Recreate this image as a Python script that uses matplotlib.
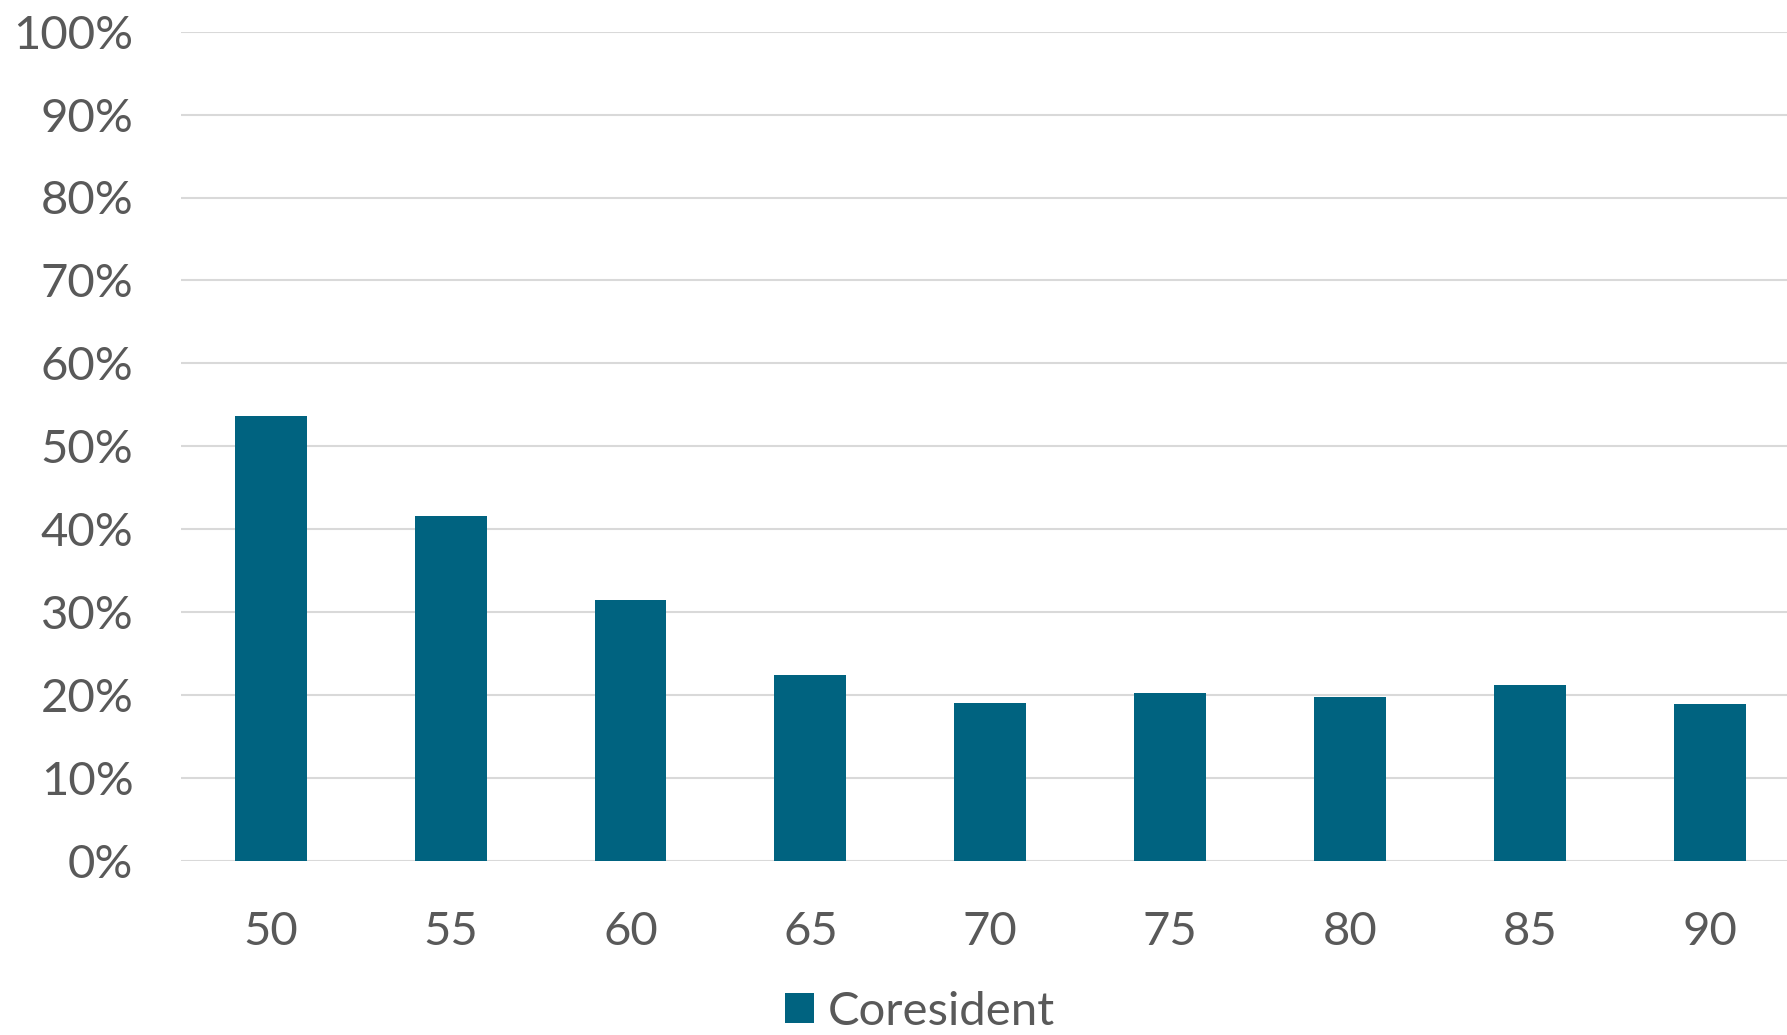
import matplotlib
matplotlib.use("Agg")
import matplotlib.pyplot as plt
from matplotlib.ticker import FuncFormatter

categories = ["50", "55", "60", "65", "70", "75", "80", "85", "90"]
coresident = [53.6, 41.6, 31.5, 22.4, 19.0, 20.2, 19.8, 21.2, 18.9]
yticks = [0, 10, 20, 30, 40, 50, 60, 70, 80, 90, 100]

plt.rcParams['font.family'] = ['Lato', 'DejaVu Sans']
text_color = "#595959"
bar_color = "#006380"
grid_color = "#d9d9d9"

W, H = 1787, 1035
fig = plt.figure(figsize=(W / 100, H / 100), dpi=100)
left, right = 180.7, 1800.0
top, bottom = 31.7, 860.7
ax = fig.add_axes([left / W, 1 - bottom / H, (right - left) / W, (bottom - top) / H])

x = list(range(len(categories)))
ax.bar(x, coresident, width=0.4, color=bar_color, label="Coresident", zorder=3)
ax.set_xlim(-0.5, len(categories) - 0.5)
ax.set_ylim(0, 100)
ax.set_yticks(yticks)
ax.yaxis.set_major_formatter(FuncFormatter(lambda v, p: f"{int(v)}%"))
ax.set_xticks(x)
ax.set_xticklabels(categories)
ax.grid(axis="y", color=grid_color, linewidth=1.5, zorder=0)
ax.set_axisbelow(True)
for s in ax.spines.values():
    s.set_visible(False)
ax.tick_params(axis="both", length=0, labelsize=34, labelcolor=text_color)
ax.tick_params(axis="y", pad=34)
ax.tick_params(axis="x", pad=36)

fig.legend(loc="center", bbox_to_anchor=(920 / W, 1 - 1012 / H), frameon=False,
           fontsize=34, labelcolor=text_color, handlelength=0.6, handleheight=0.6,
           handletextpad=0.3, borderpad=0.2)

fig.savefig("out.png", dpi=100)
